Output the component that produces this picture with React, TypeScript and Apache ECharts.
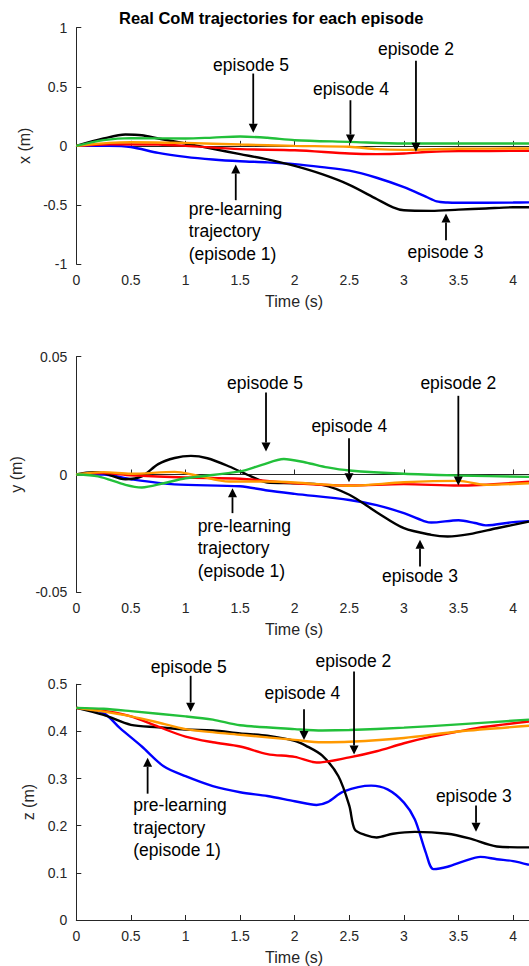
import React, { useEffect, useRef } from "react";
import * as echarts from "echarts";

const TITLE = "Real CoM trajectories for each episode";
const X_MAX = 4.145;
const X_NAME = "Time (s)";
const Y_NAMES = ["x (m)", "y (m)", "z (m)"];
const Y_MIN = [-1, -0.05, 0];
const Y_MAX = [1, 0.05, 0.5];
const Y_STEP = [0.5, 0.05, 0.1];

const EPISODES = ["episode 1", "episode 2", "episode 3", "episode 4", "episode 5"];
const COLORS = ["#0000ff", "#ff0000", "#000000", "#ff9900", "#22c03a"];
// drawing order: blue, black, red, orange, green
const DRAW_ORDER = [0, 2, 1, 3, 4];

// ---- x (m) ----
const xEp1 = [[0,0],[0.3,0],[0.5,-0.01],[0.75,-0.06],[1,-0.093],[1.25,-0.115],[1.5,-0.13],[1.75,-0.14],[2,-0.155],[2.25,-0.18],[2.5,-0.21],[2.75,-0.27],[3,-0.35],[3.2,-0.43],[3.3,-0.47],[3.4,-0.48],[3.5,-0.482],[4,-0.48],[4.145,-0.478]];
const xEp2 = [[0,0],[0.3,0.014],[0.75,0.011],[1,0],[1.5,-0.028],[2,-0.037],[2.5,-0.065],[2.75,-0.07],[3,-0.065],[3.25,-0.05],[3.5,-0.045],[4.145,-0.042]];
const xEp3 = [[0,0],[0.25,0.062],[0.45,0.096],[0.6,0.09],[0.75,0.062],[1,0.02],[1.25,-0.025],[1.5,-0.07],[1.75,-0.115],[2,-0.17],[2.25,-0.24],[2.5,-0.33],[2.75,-0.45],[2.9,-0.52],[3,-0.545],[3.25,-0.55],[3.5,-0.54],[3.75,-0.53],[4,-0.52],[4.145,-0.52]];
const xEp4 = [[0,0],[0.3,0.025],[0.5,0.031],[1,0.025],[1.5,0.011],[2,0],[2.5,-0.008],[2.75,-0.028],[3,-0.034],[3.5,-0.025],[4.145,-0.022]];
const xEp5 = [[0,0],[0.25,0.048],[0.5,0.065],[1,0.062],[1.25,0.07],[1.5,0.079],[1.75,0.068],[2,0.048],[2.5,0.034],[3,0.02],[3.5,0.02],[4.145,0.02]];

// ---- y (m) ----
const yEp1 = [[0,0],[0.25,0],[0.5,-0.002],[0.9,-0.0042],[1.5,-0.005],[1.75,-0.0068],[2,-0.0082],[2.5,-0.0108],[2.75,-0.013],[3,-0.0164],[3.2,-0.02],[3.25,-0.0204],[3.5,-0.0194],[3.65,-0.0206],[3.75,-0.0216],[4,-0.0202],[4.145,-0.0198]];
const yEp2 = [[0,0],[0.25,0.0006],[0.5,-0.0003],[1,-0.0013],[1.5,-0.0018],[2,-0.0037],[2.5,-0.0047],[3,-0.0041],[3.5,-0.0047],[4.145,-0.0031]];
const yEp3 = [[0,0],[0.15,0.001],[0.25,0.0006],[0.45,-0.002],[0.6,-0.0008],[0.75,0.0044],[0.9,0.007],[1.05,0.0079],[1.2,0.0069],[1.4,0.0034],[1.6,-0.0008],[1.75,-0.0034],[2,-0.0037],[2.25,-0.0044],[2.5,-0.0086],[2.75,-0.016],[3,-0.0228],[3.25,-0.0256],[3.4,-0.0263],[3.6,-0.0253],[3.85,-0.0228],[4.145,-0.02]];
const yEp4 = [[0,0],[0.25,0.001],[0.5,0.0003],[0.9,0.0011],[1.1,-0.0004],[1.4,-0.003],[1.75,-0.003],[2,-0.0034],[2.5,-0.0048],[3,-0.0033],[3.5,-0.0027],[3.75,-0.0044],[4.145,-0.0037]];
const yEp5 = [[0,0],[0.2,-0.0008],[0.45,-0.0044],[0.6,-0.0055],[0.8,-0.0037],[1,-0.0016],[1.5,0.0013],[1.7,0.0041],[1.9,0.0066],[2.1,0.0051],[2.3,0.003],[2.5,0.0017],[3,0.0003],[3.5,-0.0004],[4.145,-0.001]];

// ---- z (m) ----
const zEp1 = [[0,0.45],[0.25,0.439],[0.4,0.407],[0.6,0.368],[0.8,0.326],[1,0.305],[1.25,0.284],[1.5,0.271],[1.75,0.263],[2,0.252],[2.2,0.244],[2.3,0.25],[2.45,0.273],[2.7,0.285],[2.85,0.277],[3,0.249],[3.1,0.213],[3.2,0.143],[3.27,0.108],[3.4,0.113],[3.55,0.125],[3.7,0.134],[3.85,0.129],[4,0.125],[4.145,0.117]];
const zEp2 = [[0,0.45],[0.3,0.442],[0.5,0.432],[0.75,0.41],[1,0.389],[1.25,0.377],[1.5,0.368],[1.75,0.352],[2,0.346],[2.2,0.334],[2.5,0.345],[2.75,0.358],[3,0.375],[3.25,0.389],[3.5,0.4],[3.75,0.41],[4.145,0.421]];
const zEp3 = [[0,0.45],[0.25,0.435],[0.5,0.414],[0.75,0.409],[1,0.404],[1.25,0.402],[1.5,0.396],[1.75,0.391],[2,0.38],[2.1,0.37],[2.25,0.349],[2.4,0.305],[2.5,0.242],[2.55,0.192],[2.65,0.18],[2.75,0.175],[2.9,0.183],[3.1,0.187],[3.4,0.183],[3.6,0.173],[3.85,0.156],[4.145,0.154]];
const zEp4 = [[0,0.45],[0.25,0.442],[0.5,0.432],[0.75,0.419],[1,0.405],[1.5,0.393],[2,0.382],[2.25,0.377],[2.5,0.378],[3,0.386],[3.5,0.4],[4.145,0.412]];
const zEp5 = [[0,0.45],[0.25,0.448],[0.5,0.443],[1,0.432],[1.25,0.425],[1.5,0.413],[2,0.405],[2.25,0.402],[2.5,0.403],[3,0.408],[3.5,0.415],[4.145,0.425]];

const PANELS = [
  [xEp1, xEp2, xEp3, xEp4, xEp5],
  [yEp1, yEp2, yEp3, yEp4, yEp5],
  [zEp1, zEp2, zEp3, zEp4, zEp5],
];

// annotations: panel, text, text anchor (t, v), arrow start (t, v), arrow tip (t, v)
const PRE = "pre-learning\ntrajectory\n(episode 1)";
const NOTE_PANEL = [0, 0, 0, 0, 0, 1, 1, 1, 1, 1, 2, 2, 2, 2, 2];
const NOTE_TEXT = ["episode 5", "episode 4", "episode 2", "episode 3", PRE, "episode 5", "episode 4", "episode 2", "episode 3", PRE, "episode 5", "episode 4", "episode 2", "episode 3", PRE];
const NOTE_AT = [[1.6,0.683],[2.515,0.485],[3.11,0.818],[3.38,-0.9],[1.03,-0.722],[1.728,0.0388],[2.5,0.0204],[3.498,0.0388],[3.147,-0.043],[1.111,-0.0313],[1.03,0.537],[2.07,0.481],[2.537,0.55],[3.64,0.263],[0.522,0.1958]];
const ARROW_FROM = [[1.62,0.612],[2.51,0.386],[3.11,0.72],[3.385,-0.8],[1.46,-0.46],[1.737,0.0348],[2.497,0.0154],[3.498,0.0334],[3.147,-0.039],[1.43,-0.0164],[1.047,0.518],[2.085,0.447],[2.543,0.527],[3.66,0.243],[0.653,0.268]];
const ARROW_TO = [[1.62,0.11],[2.51,0.02],[3.11,-0.05],[3.385,-0.573],[1.46,-0.158],[1.737,0.0098],[2.497,-0.0033],[3.498,-0.0047],[3.147,-0.0277],[1.43,-0.0058],[1.047,0.442],[2.085,0.382],[2.543,0.351],[3.66,0.187],[0.653,0.344]];

const FONT = '"Liberation Sans", Arial, Helvetica, sans-serif';
const AXIS_COLOR = "#262626";
const GRID_TOPS = [27.7, 356.7, 684.3];
const GRID_H = [236.3, 235.6, 236.7];

export default function App() {
  const ref = useRef<HTMLDivElement>(null);
  useEffect(() => {
    document.body.style.margin = "0";
    if (!ref.current) return;
    const chart = echarts.init(ref.current, null, { renderer: "svg" });
    const grids = GRID_TOPS.map((top, i) => ({ left: 76.3, right: 0, top, height: GRID_H[i], containLabel: false }));
    const xAxes = GRID_TOPS.map((_, i) => ({
      type: "value", gridIndex: i, min: 0, max: X_MAX, interval: 0.5,
      name: X_NAME, nameLocation: "middle", nameGap: 29,
      nameTextStyle: { fontFamily: FONT, fontSize: 16, color: AXIS_COLOR, padding: [0, 17, 0, 0] },
      axisLine: { show: true, lineStyle: { color: AXIS_COLOR, width: 1 } },
      axisTick: { show: true, inside: true, length: 5, lineStyle: { color: AXIS_COLOR } },
      axisLabel: { fontFamily: FONT, fontSize: 14, color: AXIS_COLOR, margin: 9, showMaxLabel: false, showMinLabel: true },
      splitLine: { show: false },
    }));
    const nameGaps = [36, 45, 34];
    const yAxes = GRID_TOPS.map((_, i) => ({
      type: "value", gridIndex: i, min: Y_MIN[i], max: Y_MAX[i], interval: Y_STEP[i],
      name: Y_NAMES[i], nameLocation: "middle", nameGap: nameGaps[i], nameRotate: 90,
      nameTextStyle: { fontFamily: FONT, fontSize: 16, color: AXIS_COLOR },
      axisLine: { show: true, lineStyle: { color: AXIS_COLOR, width: 1 } },
      axisTick: { show: true, inside: true, length: 5, lineStyle: { color: AXIS_COLOR } },
      axisLabel: { fontFamily: FONT, fontSize: 14, color: AXIS_COLOR, margin: 9 },
      splitLine: { show: false },
    }));
    const series: any[] = [];
    PANELS.forEach((panel, p) => {
      DRAW_ORDER.forEach((e) => {
        series.push({
          type: "line", name: EPISODES[e], xAxisIndex: p, yAxisIndex: p,
          data: panel[e], showSymbol: false, symbol: "none", smooth: 0.3,
          lineStyle: { color: COLORS[e], width: 2.4 }, itemStyle: { color: COLORS[e] },
          clip: true,
        });
      });
    });
    chart.setOption({
      animation: false,
      title: {
        text: TITLE, left: 114, top: 4,
        textStyle: { fontFamily: FONT, fontSize: 16.5, fontWeight: "bold", color: "#000" },
      },
      grid: grids, xAxis: xAxes, yAxis: yAxes, series,
    });

    const graphics: any[] = [];
    NOTE_TEXT.forEach((text, i) => {
      const g = { gridIndex: NOTE_PANEL[i] };
      const at = chart.convertToPixel(g, NOTE_AT[i]) as number[];
      const p1 = chart.convertToPixel(g, ARROW_FROM[i]) as number[];
      const p2 = chart.convertToPixel(g, ARROW_TO[i]) as number[];
      const multi = text.indexOf("\n") >= 0;
      graphics.push({
        type: "text", z: 100,
        style: {
          text, x: at[0], y: at[1], fill: "#000", fontFamily: FONT, fontSize: 17.5,
          lineHeight: 22.5, align: multi ? "left" : "center", verticalAlign: "middle",
        },
      });
      const dx = p2[0] - p1[0], dy = p2[1] - p1[1];
      const len = Math.sqrt(dx * dx + dy * dy) || 1;
      const ux = dx / len, uy = dy / len;
      const hl = 9, hw = 4.5;
      const bx = p2[0] - ux * hl, by = p2[1] - uy * hl;
      graphics.push({
        type: "line", z: 100,
        shape: { x1: p1[0], y1: p1[1], x2: bx, y2: by },
        style: { stroke: "#000", lineWidth: 1.8 },
      });
      graphics.push({
        type: "polygon", z: 100,
        shape: { points: [[p2[0], p2[1]], [bx - uy * hw, by + ux * hw], [bx + uy * hw, by - ux * hw]] },
        style: { fill: "#000" },
      });
    });
    chart.setOption({ graphic: graphics });
    return () => chart.dispose();
  }, []);
  return <div ref={ref} style={{ width: 529, height: 966 }} />;
}
